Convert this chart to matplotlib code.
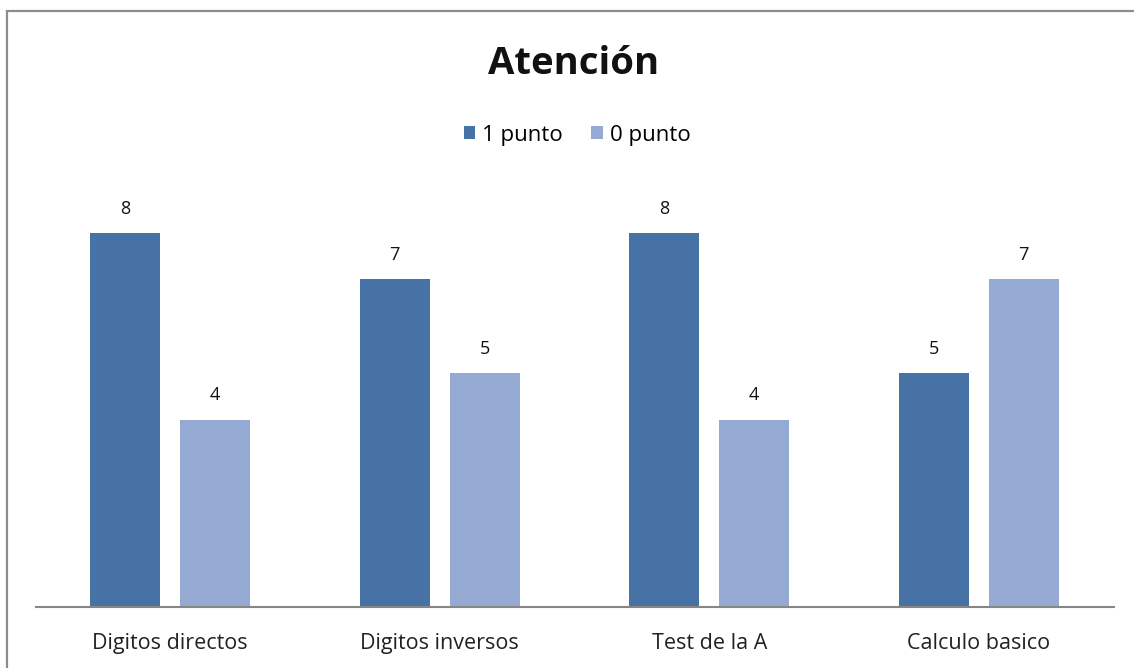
import matplotlib
matplotlib.use("Agg")
import matplotlib.pyplot as plt
import numpy as np
from matplotlib.patches import Rectangle

categories = ["Digitos directos", "Digitos inversos", "Test de la A", "Calculo basico"]
series_names = ["1 punto", "0 punto"]
uno_punto = [8, 7, 8, 5]
cero_punto = [4, 5, 4, 7]
title = "Atención"

dark = "#4672A6"
light = "#95AAD2"
W, H = 1134, 668

plt.rcParams["font.family"] = ["Open Sans", "DejaVu Sans"]

fig = plt.figure(figsize=(W / 100, H / 100), dpi=100)
fig.patch.set_facecolor("white")

# outer chart frame (runs off the right/bottom edge)
fig.patches.append(Rectangle((6.5 / W, -0.05), 1.2, (H - 10.5) / H + 0.05,
                             transform=fig.transFigure, fill=False,
                             edgecolor="#8c8c8c", linewidth=1.6))

ymax = 9
base_y = 606.5
px_per_unit = 46.75
left_px, right_px = 35.5, 1113.5
ax = fig.add_axes([left_px / W, (H - base_y) / H, (right_px - left_px) / W,
                   ymax * px_per_unit / H])
ax.set_xlim(-0.5, len(categories) - 0.5)
ax.set_ylim(0, ymax)

x = np.arange(len(categories))
bw = 0.258
off = 0.167
b1 = ax.bar(x - off, uno_punto, bw, color=dark, label=series_names[0], zorder=2)
b2 = ax.bar(x + off, cero_punto, bw, color=light, label=series_names[1], zorder=2)

for bars, vals in ((b1, uno_punto), (b2, cero_punto)):
    for rect, v in zip(bars, vals):
        ax.annotate(str(v), (rect.get_x() + rect.get_width() / 2, v),
                    xytext=(0, 15), textcoords="offset pixels",
                    ha="center", va="bottom", fontsize=13, color="#111111")

for s in ("top", "right", "left"):
    ax.spines[s].set_visible(False)
ax.spines["bottom"].set_color("#868686")
ax.spines["bottom"].set_linewidth(1.5)
ax.set_yticks([])
ax.set_xticks(x)
ax.set_xticklabels(categories, fontsize=15.5, color="#222222")
ax.tick_params(axis="x", length=0, pad=19)

fig.text(574 / W, 1 - 64 / H, title, ha="center", va="center",
         fontsize=27.5, fontweight="bold", color="#111111")

fig.legend(handles=[b1, b2], labels=series_names, loc="center",
           bbox_to_anchor=(577 / W, 1 - 135 / H), ncol=2, frameon=False,
           fontsize=16, handlelength=0.5, handleheight=0.5,
           handletextpad=0.32, columnspacing=1.3)

fig.savefig("out.png", dpi=100, facecolor="white")
